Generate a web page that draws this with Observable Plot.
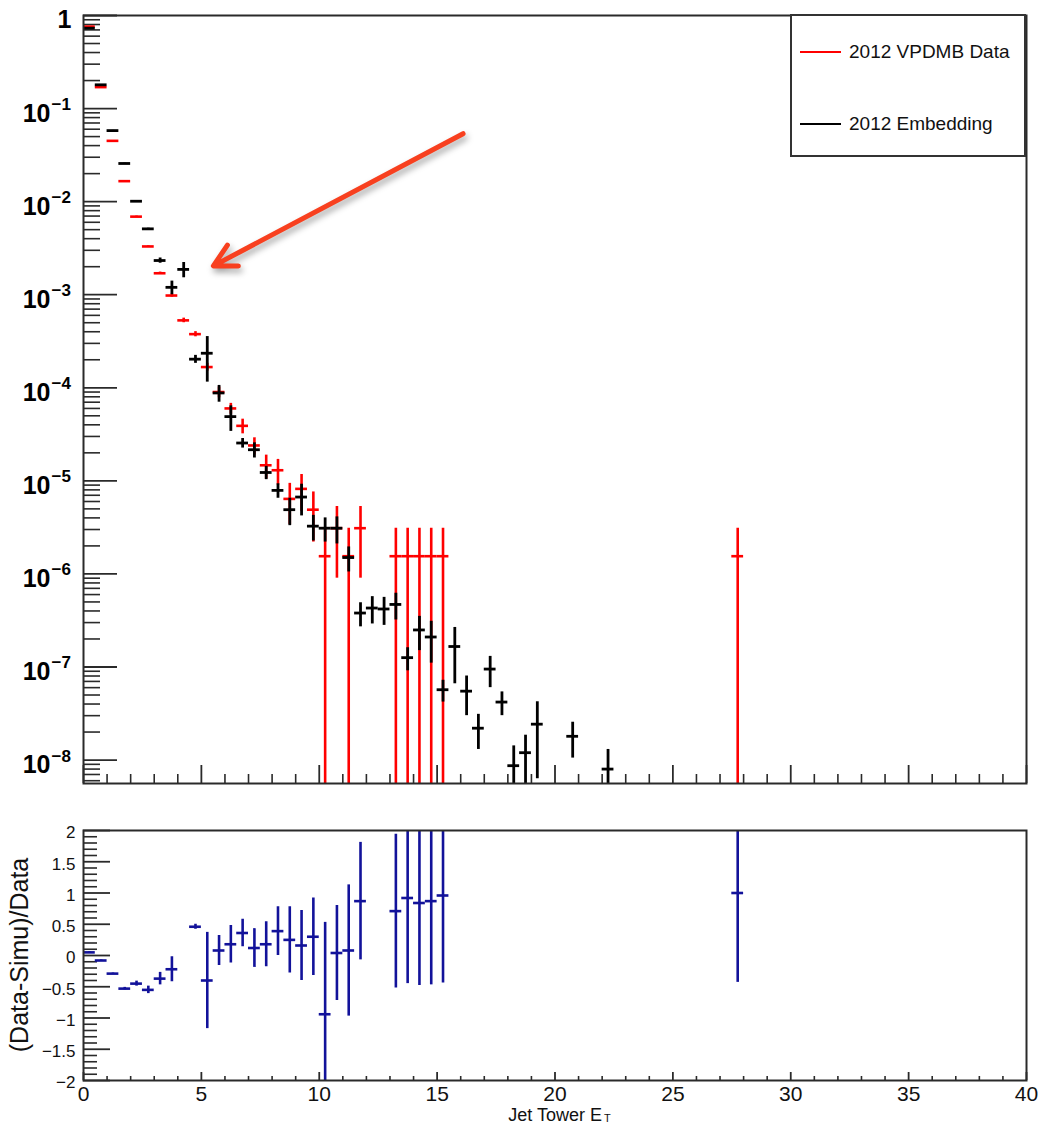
<!DOCTYPE html>
<html><head><meta charset="utf-8">
<script src="https://cdn.jsdelivr.net/npm/d3@7"></script>
<script src="https://cdn.jsdelivr.net/npm/@observablehq/plot@0.6"></script>
<style>
html,body{margin:0;padding:0;background:#fff;}
#wrap{position:relative;width:1038px;height:1125px;font-family:"Liberation Sans",Arial,Helvetica,sans-serif;overflow:hidden;}
#topPanel,#bottomPanel{position:absolute;left:0;}
#topPanel{top:0;} #bottomPanel{top:800px;}
#legend{position:absolute;left:790px;top:14px;width:236px;height:143px;border:2px solid #333;background:#fff;box-sizing:border-box;}
.lg{position:absolute;left:8px;height:22px;display:flex;align-items:center;font-size:19px;color:#111;white-space:nowrap;}
.lg .ln{display:inline-block;width:41px;height:2.5px;margin-right:8px;}
#ytitle{position:absolute;left:19px;top:955px;transform:translate(-50%,-50%) rotate(-90deg);font-size:25px;color:#111;white-space:nowrap;}
g[aria-label="arrow"]{filter:drop-shadow(2px 4px 3px rgba(0,0,0,0.35));}
</style></head>
<body><div id="wrap"><div id="topPanel"></div><div id="bottomPanel"></div>
<div id="legend">
 <div class="lg" style="top:25px"><span class="ln" style="background:#ff0000"></span><span id="lg1"></span></div>
 <div class="lg" style="top:97px"><span class="ln" style="background:#000"></span><span id="lg2"></span></div>
</div>
<div id="ytitle"></div>
</div>
<script>
// ---------- data ----------
const seriesNames = ["2012 VPDMB Data", "2012 Embedding"];
const binWidth = 0.5;

const redX = [0.25,0.75,1.25,1.75,2.25,2.75,3.25,3.75,4.25,4.75,5.25,5.75,6.25,6.75,7.25,7.75,8.25,8.75,9.25,9.75,10.25,10.75,11.25,11.75,13.25,13.75,14.25,14.75,15.25,27.75];
const redY = [0.76,0.17,0.045,0.0166,0.0069,0.0033,0.0017,0.00098,0.00053,0.000377,0.000167,9.0e-5,6.0e-5,3.9e-5,2.4e-5,1.47e-5,1.3e-5,6.4e-6,8.2e-6,4.9e-6,1.55e-6,3.1e-6,1.55e-6,3.1e-6,1.55e-6,1.55e-6,1.55e-6,1.55e-6,1.55e-6,1.55e-6];
const redErr = [0.001,0.0005,0.0003,0.0002,0.0001,5e-5,5e-5,4e-5,3e-5,2.4e-5,1.6e-5,1.2e-5,8e-6,7e-6,5e-6,4.2e-6,4.0e-6,3.0e-6,3.5e-6,2.7e-6,1.55e-6,2.2e-6,1.55e-6,2.2e-6,1.55e-6,1.55e-6,1.55e-6,1.55e-6,1.55e-6,1.55e-6];

const blackX = [0.25,0.75,1.25,1.75,2.25,2.75,3.25,3.75,4.25,4.75,5.25,5.75,6.25,6.75,7.25,7.75,8.25,8.75,9.25,9.75,10.25,10.75,11.25,11.75,12.25,12.75,13.25,13.75,14.25,14.75,15.25,15.75,16.25,16.75,17.25,17.75,18.25,18.75,19.25,20.75,22.25];
const blackY = [0.73,0.18,0.058,0.0257,0.0101,0.0051,0.00233,0.0012,0.00187,0.000203,0.000235,8.8e-5,4.9e-5,2.55e-5,2.16e-5,1.23e-5,7.9e-6,4.9e-6,6.7e-6,3.26e-6,3.1e-6,3.1e-6,1.5e-6,3.8e-7,4.3e-7,4.2e-7,4.7e-7,1.26e-7,2.5e-7,2.1e-7,5.7e-8,1.66e-7,5.5e-8,2.2e-8,9.5e-8,4.2e-8,8.7e-9,1.2e-8,2.43e-8,1.8e-8,8e-9];
const blackErr = [0.002,0.0006,0.0003,0.0002,0.00012,0.00008,0.00015,0.0002,0.00035,0.00002,0.00012,1.8e-5,1.5e-5,3e-6,4e-6,2e-6,1.4e-6,1.6e-6,2.5e-6,1.0e-6,0.9e-6,1.0e-6,0.45e-6,1.1e-7,1.4e-7,1.4e-7,1.5e-7,3.5e-8,1.0e-7,1.0e-7,1.5e-8,1.0e-7,2.5e-8,9e-9,3.5e-8,1.2e-8,5.5e-9,6.5e-9,1.8e-8,7.5e-9,5e-9];

const ratioX = [0.25,0.75,1.25,1.75,2.25,2.75,3.25,3.75,4.75,5.25,5.75,6.25,6.75,7.25,7.75,8.25,8.75,9.25,9.75,10.25,10.75,11.25,11.75,13.25,13.75,14.25,14.75,15.25,27.75];
const ratioY = [0.05,-0.08,-0.29,-0.53,-0.45,-0.55,-0.37,-0.22,0.46,-0.4,0.08,0.18,0.36,0.12,0.18,0.39,0.25,0.16,0.3,-0.94,0.04,0.08,0.87,0.71,0.92,0.84,0.87,0.96,1.0];
const ratioErr = [0.01,0.01,0.01,0.02,0.04,0.06,0.1,0.2,0.04,0.77,0.24,0.3,0.22,0.31,0.36,0.39,0.53,0.56,0.62,1.47,0.76,1.05,0.94,1.23,1.37,1.32,1.34,1.4,1.43];

// axis ticks / labels
const topDecades = [1,1e-1,1e-2,1e-3,1e-4,1e-5,1e-6,1e-7,1e-8];
const topExponents = ["0","−1","−2","−3","−4","−5","−6","−7","−8"];
const xMajor = [0,5,10,15,20,25,30,35,40];
const xMajorLabels = ["0","5","10","15","20","25","30","35","40"];
const ratioMajor = [-2,-1.5,-1,-0.5,0,0.5,1,1.5,2];
const ratioLabels = ["−2","−1.5","−1","−0.5","0","0.5","1","1.5","2"];
const xTitle = "Jet Tower E";
const xTitleSub = "T";
const yTitleBottom = "(Data-Simu)/Data";
const arrowAnno = [{x1: 16.1, y1: 0.0537, x2: 5.51, y2: 0.00204}];

// ---------- derived ----------
const RED = "#ff0000", BLACK = "#000000", BLUE = "#12129a", AX = "#2a2a2a";
const yMin = 5.6e-9;
const redRows = redX.map((x,i)=>({x, y: redY[i], lo: Math.max(redY[i]-redErr[i], 1e-14), hi: redY[i]+redErr[i]}));
const blackRows = blackX.map((x,i)=>({x, y: blackY[i], lo: Math.max(blackY[i]-blackErr[i], 1e-14), hi: blackY[i]+blackErr[i]}));
const ratioRows = ratioX.map((x,i)=>({x, y: ratioY[i], lo: ratioY[i]-ratioErr[i], hi: ratioY[i]+ratioErr[i]}));
const xLabelRows = xMajor.map((x,i)=>({x, label: xMajorLabels[i]}));
const yMinor = [];
for (const d of [1e-9,1e-8,1e-7,1e-6,1e-5,1e-4,1e-3,1e-2,1e-1]) for (let m=2;m<=9;m++){ const v=d*m; if (v>=yMin && v<1) yMinor.push(v); }
const xMinor = d3.range(0, 41, 1).filter(v => v % 5 !== 0);
const rMinor = d3.range(-20, 21, 1).filter(v => v % 5 !== 0).map(v => v/10);

const W = 1038, mL = 83, mR = 12;
const plotW = W - mL - mR;
const FONT = "'Liberation Sans', Arial, Helvetica, sans-serif";

// ---------- top panel ----------
const topH = 800, tT = 15, tB = 17, topPH = topH - tT - tB;
const topPlot = Plot.plot({
  width: W, height: topH, marginLeft: mL, marginRight: mR, marginTop: tT, marginBottom: tB,
  style: {fontFamily: FONT, background: "transparent"},
  x: {domain: [0, 40], axis: null},
  y: {type: "log", domain: [yMin, 1], axis: null},
  marks: [
    Plot.tickY(yMinor, {y: d=>d, insetRight: plotW - 17, stroke: AX, strokeWidth: 1.6}),
    Plot.tickY(topDecades, {y: d=>d, insetRight: plotW - 34, stroke: AX, strokeWidth: 1.8}),
    Plot.tickX(xMinor, {x: d=>d, insetTop: topPH - 9, stroke: AX, strokeWidth: 1.6}),
    Plot.tickX(xMajor, {x: d=>d, insetTop: topPH - 18, stroke: AX, strokeWidth: 1.8}),
    Plot.ruleX(redRows, {x: "x", y1: "lo", y2: "hi", stroke: RED, strokeWidth: 2.6, clip: true}),
    Plot.ruleY(redRows, {y: "y", x1: d=>d.x-binWidth/2, x2: d=>d.x+binWidth/2, stroke: RED, strokeWidth: 2.6, clip: true}),
    Plot.ruleX(blackRows, {x: "x", y1: "lo", y2: "hi", stroke: BLACK, strokeWidth: 2.8, clip: true}),
    Plot.ruleY(blackRows, {y: "y", x1: d=>d.x-binWidth/2, x2: d=>d.x+binWidth/2, stroke: BLACK, strokeWidth: 2.8, clip: true}),
    Plot.frame({stroke: AX, strokeWidth: 2}),
    Plot.text(topDecades.slice(0,1), {y: d=>d, text: ()=>"1", frameAnchor: "left", textAnchor: "end", dx: -12, dy: 4, fontSize: 25, fontWeight: "bold", fill: "#000"}),
    Plot.text(topDecades.slice(1), {y: d=>d, text: ()=>"10", frameAnchor: "left", textAnchor: "end", dx: -33, dy: 5, fontSize: 25, fontWeight: "bold", fill: "#000"}),
    Plot.text(topDecades.slice(1), {y: d=>d, text: (d,i)=>topExponents[i+1], frameAnchor: "left", textAnchor: "start", dx: -32, dy: -4, fontSize: 17, fontWeight: "bold", fill: "#000"}),
    Plot.arrow(arrowAnno, {x1: "x1", y1: "y1", x2: "x2", y2: "y2", stroke: "#f8401f", strokeWidth: 5, headLength: 7.5, headAngle: 56})
  ]
});
document.getElementById("topPanel").append(topPlot);

// ---------- bottom panel ----------
const botH = 325, bT = 30, bB = 45, botPH = botH - bT - bB;
const bottomPlot = Plot.plot({
  width: W, height: botH, marginLeft: mL, marginRight: mR, marginTop: bT, marginBottom: bB,
  style: {fontFamily: FONT, background: "transparent"},
  x: {domain: [0, 40], axis: null},
  y: {domain: [-2, 2], axis: null},
  marks: [
    Plot.tickY(rMinor, {y: d=>d, insetRight: plotW - 14, stroke: AX, strokeWidth: 1.6}),
    Plot.tickY(ratioMajor, {y: d=>d, insetRight: plotW - 27, stroke: AX, strokeWidth: 1.8}),
    Plot.tickX(xMinor, {x: d=>d, insetTop: botPH - 4, stroke: AX, strokeWidth: 1.6}),
    Plot.tickX(xMajor, {x: d=>d, insetTop: botPH - 8, stroke: AX, strokeWidth: 1.8}),
    Plot.ruleX(ratioRows, {x: "x", y1: "lo", y2: "hi", stroke: BLUE, strokeWidth: 2.6, clip: true}),
    Plot.ruleY(ratioRows, {y: "y", x1: d=>d.x-binWidth/2, x2: d=>d.x+binWidth/2, stroke: BLUE, strokeWidth: 2.6, clip: true}),
    Plot.frame({stroke: AX, strokeWidth: 2}),
    Plot.text(ratioMajor, {y: d=>d, text: (d,i)=>ratioLabels[i], frameAnchor: "left", textAnchor: "end", dx: -8, dy: 2.5, fontSize: 17, fill: "#111"}),
    Plot.text(xLabelRows, {x: "x", text: "label", frameAnchor: "bottom", lineAnchor: "top", dy: 5.5, fontSize: 21, fill: "#111"}),
    Plot.text([xTitle], {text: d=>d, frameAnchor: "bottom", textAnchor: "end", lineAnchor: "top", dx: 47, dy: 28, fontSize: 18, fill: "#111"}),
    Plot.text([xTitleSub], {text: d=>d, frameAnchor: "bottom", textAnchor: "start", lineAnchor: "top", dx: 49, dy: 34, fontSize: 11, fill: "#111"})
  ]
});
document.getElementById("bottomPanel").append(bottomPlot);

document.getElementById("lg1").textContent = seriesNames[0];
document.getElementById("lg2").textContent = seriesNames[1];
document.getElementById("ytitle").textContent = yTitleBottom;
</script>
</body></html>
